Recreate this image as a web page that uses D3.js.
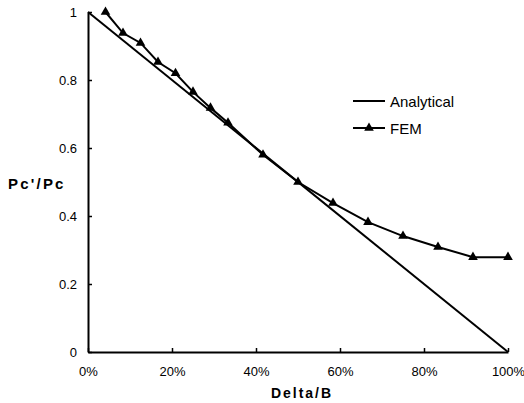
<!DOCTYPE html>
<html>
<head>
<meta charset="utf-8">
<script src="https://cdn.jsdelivr.net/npm/d3@7"></script>
<style>
  body { margin: 0; background: #fff; }
  svg { font-family: "Liberation Sans", Arial, sans-serif; }
</style>
</head>
<body>
<div id="chart"></div>
<script>
// data
var analyticalX = [0, 1];
var analyticalY = [1, 0];
var femX = [1/24, 2/24, 3/24, 4/24, 5/24, 6/24, 7/24, 8/24, 10/24, 12/24, 14/24, 16/24, 18/24, 20/24, 22/24, 1];
var femY = [1.0, 0.938, 0.909, 0.853, 0.82, 0.765, 0.718, 0.674, 0.58, 0.50, 0.438, 0.382, 0.341, 0.309, 0.279, 0.279];
var xTicks = [0, 0.2, 0.4, 0.6, 0.8, 1];
var yTicks = [0, 0.2, 0.4, 0.6, 0.8, 1];
var seriesNames = ["Analytical", "FEM"];

var W = 524, H = 403;
var margin = {top: 12, right: 16, bottom: 51, left: 88},
    width = W - margin.left - margin.right,
    height = H - margin.top - margin.bottom;

var svg = d3.select("#chart")
    .append("svg")
    .attr("width", W)
    .attr("height", H)
  .append("g")
    .attr("transform", "translate(" + margin.left + "," + margin.top + ")");

var x = d3.scaleLinear().domain([0, 1]).range([0, width]);
var y = d3.scaleLinear().domain([0, 1]).range([height, 0]);

// axes with inward ticks
svg.append("g")
    .attr("transform", "translate(0," + height + ")")
    .call(d3.axisBottom(x).tickValues(xTicks).tickSize(-4).tickSizeOuter(0)
        .tickPadding(15).tickFormat(d3.format(".0%")));
svg.append("g")
    .call(d3.axisLeft(y).tickValues(yTicks).tickSize(-4).tickSizeOuter(0)
        .tickPadding(11).tickFormat(function(d) { return d3.format("")(d); }));

svg.selectAll(".domain").attr("stroke", "#000").attr("stroke-width", 2);
svg.selectAll(".tick line").attr("stroke", "#000").attr("stroke-width", 1.5);
svg.selectAll(".tick text").style("font-size", "13px").attr("fill", "#000");

var analytical = analyticalX.map(function(d, i) { return {x: d, y: analyticalY[i]}; });
var fem = femX.map(function(d, i) { return {x: d, y: femY[i]}; });

var line = d3.line()
    .x(function(d) { return x(d.x); })
    .y(function(d) { return y(d.y); });

// analytical line
svg.append("path")
    .datum(analytical)
    .attr("fill", "none")
    .attr("stroke", "#000")
    .attr("stroke-width", 2)
    .attr("d", line);

// FEM line + triangles
svg.append("path")
    .datum(fem)
    .attr("fill", "none")
    .attr("stroke", "#000")
    .attr("stroke-width", 2)
    .attr("d", line);

var tri = d3.symbol().type(d3.symbolTriangle).size(40);

svg.append("g")
  .selectAll("path")
  .data(fem)
  .enter()
  .append("path")
    .attr("d", tri)
    .attr("transform", function(d) { return "translate(" + x(d.x) + "," + y(d.y) + ")"; })
    .attr("fill", "#000");

// legend
var legend = svg.append("g").attr("transform", "translate(265,89)");
seriesNames.forEach(function(name, i) {
  var g = legend.append("g").attr("transform", "translate(0," + (i * 27) + ")");
  g.append("line").attr("x1", 0).attr("x2", 32).attr("y1", 0).attr("y2", 0)
    .attr("stroke", "#000").attr("stroke-width", 2);
  if (name === "FEM") {
    g.append("path").attr("d", tri).attr("transform", "translate(16,0)").attr("fill", "#000");
  }
  g.append("text").attr("x", 37).attr("y", 5.5)
    .style("font-size", "15px").text(name);
});

// axis titles
svg.append("text")
    .attr("x", width / 2 + 4)
    .attr("y", height + 46)
    .attr("text-anchor", "middle")
    .style("font-size", "14px").style("font-weight", "bold").style("letter-spacing", "2px")
    .text("Delta/B");

svg.append("text")
    .attr("x", -80)
    .attr("y", 177)
    .attr("text-anchor", "start")
    .style("font-size", "15px").style("font-weight", "bold").style("letter-spacing", "2.2px")
    .text("Pc'/Pc");
</script>
</body>
</html>
